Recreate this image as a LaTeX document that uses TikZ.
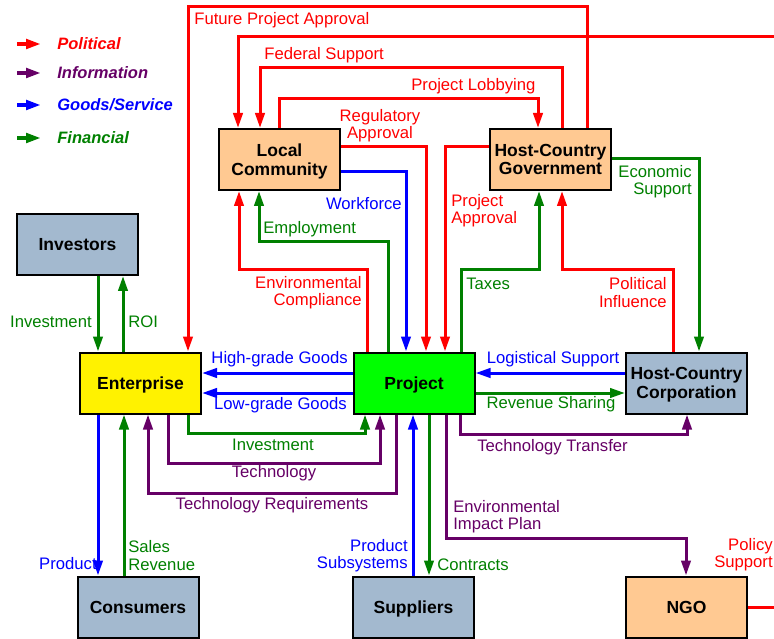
\documentclass[tikz,border=0pt]{standalone}
\usepackage{fontspec}
\setmainfont{Liberation Sans}
\usetikzlibrary{arrows.meta}
\definecolor{polred}{HTML}{FF0000}
\definecolor{infpurple}{HTML}{660066}
\definecolor{gdsblue}{HTML}{0000FF}
\definecolor{fingreen}{HTML}{008000}
\definecolor{peach}{HTML}{FFC992}
\definecolor{slate}{HTML}{A3B9CF}
\begin{document}
\begin{tikzpicture}[x=0.6pt, y=-0.6pt, >={Triangle[length=9pt,width=5.6pt]},
  box/.style={draw=black, line width=1.2pt, minimum width=72.6pt, minimum height=36.6pt,
    inner sep=0pt, text depth=0pt, align=center, font=\fontsize{10.5}{11}\selectfont\bfseries},
  pol/.style={draw=polred, line width=1.8pt},
  inf/.style={draw=infpurple, line width=1.8pt},
  gds/.style={draw=gdsblue, line width=1.8pt},
  fin/.style={draw=fingreen, line width=1.8pt},
  lbl/.style={inner sep=0pt, yshift=-1pt, font=\fontsize{10}{10.5}\selectfont},
  key/.style={inner sep=0pt, anchor=west, font=\fontsize{9.9}{10}\selectfont\bfseries\itshape}]
\useasboundingbox (0,0) rectangle (774,639);

% legend
\foreach \y/\col/\txt in {44/polred/Political, 73/infpurple/Information,
    105/gdsblue/{Goods/Service}, 138/fingreen/Financial} {
  \coordinate (k\col) at (17,\y);
  \draw[->, draw=\col, line width=2.4pt] (k\col) -- ++(24,0);
  \node[key, text=\col] (key\col) at (57,\y) {\txt};
}

% stakeholders
\node[box, fill=peach] (LC) at (279.5,159.5) {Local\\Community};
\node[box, fill=peach] (HG) at (550.5,159.5) {Host-Country\\Government};
\node[box, fill=slate] (Inv) at (77.5,244.5) {Investors};
\node[box, fill=yellow] (Ent) at (140.5,383) {Enterprise};
\node[box, fill=green] (Prj) at (414,383) {Project};
\node[box, fill=slate] (HC) at (686.5,383) {Host-Country\\Corporation};
\node[box, fill=slate] (Con) at (138,607) {Consumers};
\node[box, fill=slate] (Sup) at (413.5,607) {Suppliers};
\node[box, fill=peach] (NGO) at (686.5,607) {NGO};

% political
\draw[pol,->] (587,0 |- HG.north) |- (188,7) -- (188,0 |- Ent.north);
\draw[pol,->] (NGO.east) -| (790,37) -- (238,37) -- (238,0 |- LC.north);
\draw[pol,->] (562,0 |- HG.north) |- (260,68) -- (260,0 |- LC.north);
\draw[pol,->] (279,0 |- LC.north) |- (538,99) -- (538,0 |- HG.north);
\draw[pol,->] (LC.east |- 0,147) -| (426,0 |- Prj.north);
\draw[pol,->] (HG.west |- 0,147) -| (445,0 |- Prj.north);
\draw[pol,->] (367,0 |- Prj.north) |- (239,270) -- (239,0 |- LC.south);
\draw[pol,->] (673,0 |- HC.north) |- (562,270) -- (562,0 |- HG.south);

% financial
\draw[fin,->] (388,0 |- Prj.north) |- (259,242) -- (259,0 |- LC.south);
\draw[fin,->] (461,0 |- Prj.north) |- (539,270) -- (539,0 |- HG.south);
\draw[fin,->] (HG.east |- 0,159) -| (699,0 |- HC.north);
\draw[fin,->] (Prj.east |- 0,393) -- (HC.west |- 0,393);
\draw[fin,->] (98,0 |- Inv.south) -- (98,0 |- Ent.north);
\draw[fin,->] (123,0 |- Ent.north) -- (123,0 |- Inv.south);
\draw[fin,->] (188,0 |- Ent.south) |- (365,433) -- (365,0 |- Prj.south);
\draw[fin,->] (124,0 |- Con.north) -- (124,0 |- Ent.south);
\draw[fin,->] (429,0 |- Prj.south) -- (429,0 |- Sup.north);

% goods / service
\draw[gds,->] (LC.east |- 0,172) -| (406,0 |- Prj.north);
\draw[gds,->] (Prj.west |- 0,373) -- (Ent.east |- 0,373);
\draw[gds,->] (Prj.west |- 0,393) -- (Ent.east |- 0,393);
\draw[gds,->] (HC.west |- 0,373) -- (Prj.east |- 0,373);
\draw[gds,->] (98,0 |- Ent.south) -- (98,0 |- Con.north);
\draw[gds,->] (413,0 |- Sup.north) -- (413,0 |- Prj.south);

% information
\draw[inf,->] (168,0 |- Ent.south) |- (380,463) -- (380,0 |- Prj.south);
\draw[inf,->] (396,0 |- Prj.south) |- (148,493) -- (148,0 |- Ent.south);
\draw[inf,->] (460,0 |- Prj.south) |- (687,434) -- (687,0 |- HC.south);
\draw[inf,->] (446,0 |- Prj.south) |- (686,538) -- (686,0 |- NGO.north);

% labels
\node[lbl, text=polred, anchor=west] (lFPA) at (194,19) {Future Project Approval};
\node[lbl, text=polred, anchor=west] (lFS) at (264,54) {Federal Support};
\node[lbl, text=polred, anchor=west] (lPL) at (411,85) {Project Lobbying};
\node[lbl, text=polred, align=center] (lRA) at (380,124) {Regulatory\\Approval};
\node[lbl, text=polred, align=left, anchor=west] (lPA) at (451,209) {Project\\Approval};
\node[lbl, text=polred, align=right, anchor=east] (lEC) at (362,291) {Environmental\\Compliance};
\node[lbl, text=polred, align=right, anchor=east] (lPI) at (667,291) {Political\\Influence};
\node[lbl, text=polred, align=right, anchor=east] (lPS) at (773,553) {Policy\\Support};

\node[lbl, text=gdsblue, anchor=east] (lWF) at (402,202) {Workforce};
\node[lbl, text=gdsblue, anchor=east] (lHG) at (348,358) {High-grade Goods};
\node[lbl, text=gdsblue, anchor=east] (lLG) at (347,404) {Low-grade Goods};
\node[lbl, text=gdsblue] (lLS) at (553,358) {Logistical Support};
\node[lbl, text=gdsblue, anchor=east] (lPr) at (97,562) {Product};
\node[lbl, text=gdsblue, align=right, anchor=east] (lPSs) at (408,554) {Product\\Subsystems};

\node[lbl, text=fingreen, anchor=west] (lEm) at (263,228) {Employment};
\node[lbl, text=fingreen, anchor=west] (lTx) at (466,282) {Taxes};
\node[lbl, text=fingreen, align=right, anchor=east] (lES) at (692,180) {Economic\\Support};
\node[lbl, text=fingreen] (lRS) at (551,403) {Revenue Sharing};
\node[lbl, text=fingreen, anchor=east] (lIv1) at (92,320) {Investment};
\node[lbl, text=fingreen, anchor=west] (lROI) at (128,320) {ROI};
\node[lbl, text=fingreen] (lIv2) at (273,443) {Investment};
\node[lbl, text=fingreen, align=left, anchor=west] (lSR) at (128,554) {Sales\\Revenue};
\node[lbl, text=fingreen, anchor=west] (lCt) at (437,563) {Contracts};

\node[lbl, text=infpurple] (lTe) at (274,472) {Technology};
\node[lbl, text=infpurple] (lTR) at (272,504) {Technology Requirements};
\node[lbl, text=infpurple, anchor=west] (lTT) at (477,446) {Technology Transfer};
\node[lbl, text=infpurple, align=left, anchor=west] (lEIP) at (453,515) {Environmental\\Impact Plan};
\end{tikzpicture}
\end{document}
